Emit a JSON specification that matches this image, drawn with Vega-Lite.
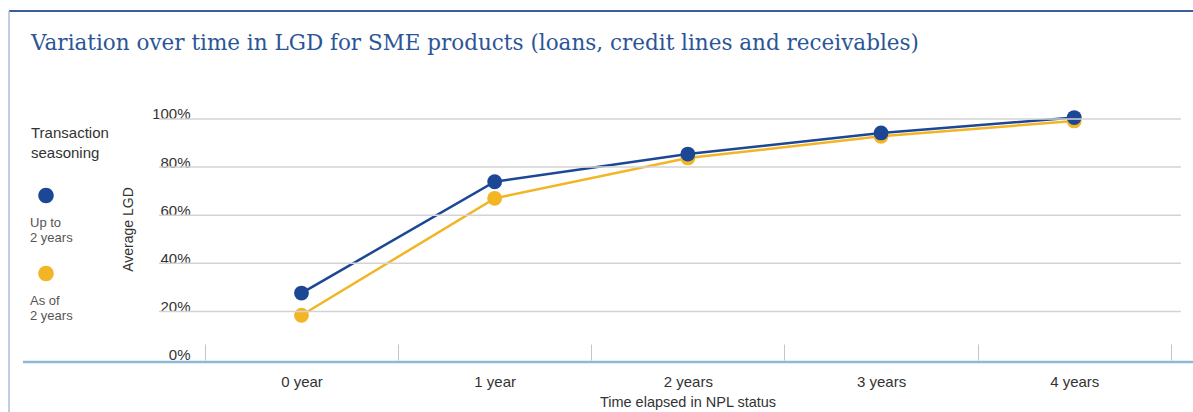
{
  "$schema": "https://vega.github.io/schema/vega-lite/v6.json",
  "width": 1185,
  "height": 402,
  "padding": {"left": 8, "top": 10, "right": 0, "bottom": 0},
  "background": "white",
  "config": {"view": {"stroke": null}, "font": "Liberation Sans"},
  "title": {
    "text": "Variation over time in LGD for SME products (loans, credit lines and receivables)",
    "anchor": "start",
    "frame": "group",
    "dx": 22,
    "offset": -61,
    "baseline": "alphabetic",
    "font": "DejaVu Serif",
    "fontSize": 21.5,
    "fontWeight": "normal",
    "color": "#2b5597"
  },
  "datasets": {
    "lgd": [
      {"t": 0, "seasoning": "As of 2 years", "lgd": 0.184},
      {"t": 1, "seasoning": "As of 2 years", "lgd": 0.670},
      {"t": 2, "seasoning": "As of 2 years", "lgd": 0.838},
      {"t": 3, "seasoning": "As of 2 years", "lgd": 0.928},
      {"t": 4, "seasoning": "As of 2 years", "lgd": 0.992},
      {"t": 0, "seasoning": "Up to 2 years", "lgd": 0.276},
      {"t": 1, "seasoning": "Up to 2 years", "lgd": 0.739},
      {"t": 2, "seasoning": "Up to 2 years", "lgd": 0.854},
      {"t": 3, "seasoning": "Up to 2 years", "lgd": 0.942},
      {"t": 4, "seasoning": "Up to 2 years", "lgd": 1.006}
    ],
    "grid": [{"share": 0.2}, {"share": 0.4}, {"share": 0.6}, {"share": 0.8}, {"share": 1.0}]
  },
  "layer": [
    {
      "data": {"name": "lgd"},
      "mark": {"type": "line", "strokeWidth": 2.5},
      "encoding": {
        "x": {
          "field": "t", "type": "quantitative",
          "scale": {"domain": [-1.514, 4.62], "nice": false, "zero": false},
          "axis": {
            "orient": "bottom", "offset": -53,
            "values": [-0.5, 0.5, 1.5, 2.5, 3.5, 4.5],
            "ticks": true, "tickSize": -16, "tickColor": "#c4c4c4", "tickWidth": 1,
            "domain": false, "grid": false,
            "labelOffset": 96.6, "labelFlush": false, "labelOverlap": false,
            "labelExpr": "datum.value > 4 ? '' : datum.value < 0 ? '0 year' : datum.value < 1 ? '1 year' : round(datum.value + 0.5) + ' years'",
            "labelPadding": 30, "labelFontSize": 15, "labelColor": "#333333",
            "title": "Time elapsed in NPL status",
            "titleX": 678.5, "titleY": 42, "titleBaseline": "middle", "titleAlign": "center",
            "titleFontSize": 14.5, "titleFontWeight": "normal", "titleColor": "#333333"
          }
        },
        "y": {
          "field": "lgd", "type": "quantitative",
          "scale": {"domain": [-0.2225, 1.449], "nice": false, "zero": false},
          "axis": {
            "orient": "left", "offset": -181,
            "values": [0, 0.2, 0.4, 0.6, 0.8, 1],
            "format": ".0%", "ticks": false, "domain": false, "grid": false,
            "labelPadding": 0, "labelBaseline": "alphabetic", "labelFlush": false,
            "labelFontSize": 15, "labelColor": "#333333",
            "title": "Average LGD",
            "titleX": -62, "titleY": 218, "titleAngle": 270,
            "titleBaseline": "middle", "titleAlign": "center",
            "titleFontSize": 14, "titleFontWeight": "normal", "titleColor": "#333333"
          }
        },
        "color": {
          "field": "seasoning", "type": "nominal",
          "scale": {"domain": ["Up to 2 years", "As of 2 years"], "range": ["#1c4795", "#f2b526"]},
          "legend": {
            "orient": "none", "legendX": 22, "legendY": 115,
            "title": ["Transaction", "seasoning"],
            "titleFontSize": 15, "titleLineHeight": 20, "titleFontWeight": "normal", "titleColor": "#333333",
            "titlePadding": 48,
            "symbolType": "M -1 -2.77 A 1 1 0 1 1 1 -2.77 A 1 1 0 1 1 -1 -2.77 Z",
            "symbolSize": 240, "symbolStrokeWidth": 0, "symbolOffset": 7,
            "labelExpr": "datum.label == 'Up to 2 years' ? ['Up to', '2 years'] : ['As of', '2 years']",
            "labelBaseline": "top", "labelFontSize": 13, "labelColor": "#555555",
            "labelOffset": -24, "rowPadding": 20
          }
        }
      }
    },
    {
      "data": {"name": "lgd"},
      "mark": {"type": "point", "filled": true, "size": 220, "opacity": 1},
      "encoding": {
        "x": {"field": "t", "type": "quantitative"},
        "y": {"field": "lgd", "type": "quantitative"},
        "color": {"field": "seasoning", "type": "nominal"}
      }
    },
    {
      "data": {"name": "grid"},
      "mark": {"type": "rule", "color": "#d3d3d3", "strokeWidth": 1.5},
      "encoding": {
        "y": {"field": "share", "type": "quantitative"},
        "x": {"datum": -0.7376, "type": "quantitative"},
        "x2": {"datum": 4.552}
      }
    },
    {
      "data": {"values": [{}]},
      "mark": {"type": "rule", "color": "#8db8d8", "strokeWidth": 2.5},
      "encoding": {
        "y": {"datum": -0.0105, "type": "quantitative"},
        "x": {"datum": -1.4415, "type": "quantitative"},
        "x2": {"datum": 4.62}
      }
    },
    {
      "data": {"values": [{}]},
      "mark": {"type": "rule", "color": "#3b5ea0", "strokeWidth": 2},
      "encoding": {
        "y": {"datum": 1.449, "type": "quantitative"}
      }
    },
    {
      "data": {"values": [{}]},
      "mark": {"type": "rule", "color": "#a7bfdf", "strokeWidth": 1.5},
      "encoding": {
        "x": {"datum": -1.514, "type": "quantitative"}
      }
    }
  ]
}
